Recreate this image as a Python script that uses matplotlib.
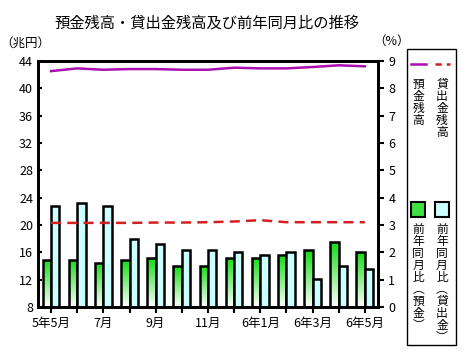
import numpy as np
import matplotlib
matplotlib.use('Agg')
import matplotlib.pyplot as plt
from matplotlib.colors import LinearSegmentedColormap
from matplotlib.patches import Rectangle
from matplotlib.lines import Line2D

plt.rcParams['font.family'] = ['Noto Sans CJK JP', 'DejaVu Sans']

# 月（5年5月〜6年5月）
months = ['5年5月', '', '7月', '', '9月', '', '11月', '', '6年1月', '', '6年3月', '', '6年5月']
# 残高（兆円）
deposit = [42.5, 42.9, 42.7, 42.8, 42.8, 42.7, 42.7, 43.0, 42.9, 42.9, 43.1, 43.35, 43.2]
loan = [20.3, 20.3, 20.3, 20.3, 20.35, 20.35, 20.4, 20.5, 20.7, 20.4, 20.4, 20.4, 20.4]
# 前年同月比（%）
dep_yoy = [1.72, 1.72, 1.62, 1.72, 1.79, 1.51, 1.51, 1.80, 1.80, 1.90, 2.08, 2.39, 2.02]
loan_yoy = [3.71, 3.82, 3.71, 2.49, 2.30, 2.10, 2.10, 2.02, 1.90, 2.02, 1.01, 1.51, 1.40]

fig = plt.figure(figsize=(4.66, 3.58), dpi=100)
ax2 = fig.add_axes([0.0815, 0.1425, 0.7295, 0.6875])
ax1 = ax2.twinx()
ax1.set_zorder(ax2.get_zorder() + 1)
ax1.patch.set_visible(False)

x = np.arange(len(months))
w = 0.32

# 棒グラフ（右軸）
green = LinearSegmentedColormap.from_list('g', ['#ffffff', '#10dd10'])
grad = np.linspace(0, 1, 100).reshape(-1, 1)
bars_g = ax2.bar(x - w / 2, dep_yoy, w, color='none', edgecolor='black', linewidth=1.8, zorder=3)
for b in bars_g:
    bx, by = b.get_x(), b.get_y()
    bw, bh = b.get_width(), b.get_height()
    im = ax2.imshow(grad, cmap=green, origin='lower', aspect='auto',
                    extent=[bx, bx + bw, by, by + bh], zorder=2)
    im.set_clip_path(b)
ax2.bar(x + w / 2, loan_yoy, w, color='#ccffff', edgecolor='black', linewidth=1.8, zorder=3)
ax2.set_xlim(-0.5, 12.5)
ax2.set_ylim(0, 9)
ax2.set_yticks(range(0, 10))
ax2.yaxis.tick_right()
ax2.tick_params(axis='y', direction='out', length=4, width=1.5, labelsize=9)
ax2.set_xticks(x)
ax2.set_xticklabels(months)
ax2.tick_params(axis='x', direction='out', length=4, width=1.5, labelsize=9)

# 折れ線（左軸）
ax1.plot(x, deposit, color='#aa10b0', linewidth=1.8)
ax1.plot(x, loan, color='#d42020', linewidth=1.8, linestyle=(0, (4, 2.5)))
ax1.set_ylim(8, 44)
ax1.set_yticks(range(8, 45, 4))
ax1.yaxis.tick_left()
ax1.tick_params(axis='y', direction='in', length=3, width=1.5, labelsize=9)
ax1.set_xlim(-0.5, 12.5)

for a in (ax1, ax2):
    for s in a.spines.values():
        s.set_linewidth(2)

fig.text(0.444, 0.936, '預金残高・貸出金残高及び前年同月比の推移', ha='center', va='center', fontsize=11)
fig.text(0.0, 0.88, '（兆円）', ha='left', va='center', fontsize=9)
fig.text(0.80, 0.885, '（%）', ha='left', va='center', fontsize=9)

# 凡例
fig.patches.append(Rectangle((406.7 / 466, 1 - 345 / 358), 49.3 / 466, 296 / 358,
                             transform=fig.transFigure, fill=False, edgecolor='black', linewidth=1))
fig.lines.append(Line2D([411 / 466, 426 / 466], [1 - 63.5 / 358] * 2, transform=fig.transFigure,
                        color='#aa10b0', linewidth=1.8))
fig.lines.append(Line2D([435 / 466, 450 / 466], [1 - 63.5 / 358] * 2, transform=fig.transFigure,
                        color='#d42020', linewidth=1.8, linestyle=(0, (2.5, 2))))
fig.patches.append(Rectangle((411 / 466, 1 - 216.5 / 358), 14 / 466, 14.5 / 358,
                             transform=fig.transFigure, facecolor='#40e040', edgecolor='black', linewidth=1.5))
fig.patches.append(Rectangle((435 / 466, 1 - 216.5 / 358), 14 / 466, 14.5 / 358,
                             transform=fig.transFigure, facecolor='#ccffff', edgecolor='black', linewidth=1.5))


def vtext(xp, yp, s):
    fig.text(xp / 466, 1 - yp / 358, '\n'.join(s), ha='center', va='top', fontsize=8.5, linespacing=0.9)


vtext(418.3, 78, '預金残高')
vtext(442, 78, '貸出金残高')
vtext(418.3, 223, '前年同月比︵預金︶')
vtext(442, 223, '前年同月比︵貸出金︶')

fig.savefig('out.png', dpi=100)
